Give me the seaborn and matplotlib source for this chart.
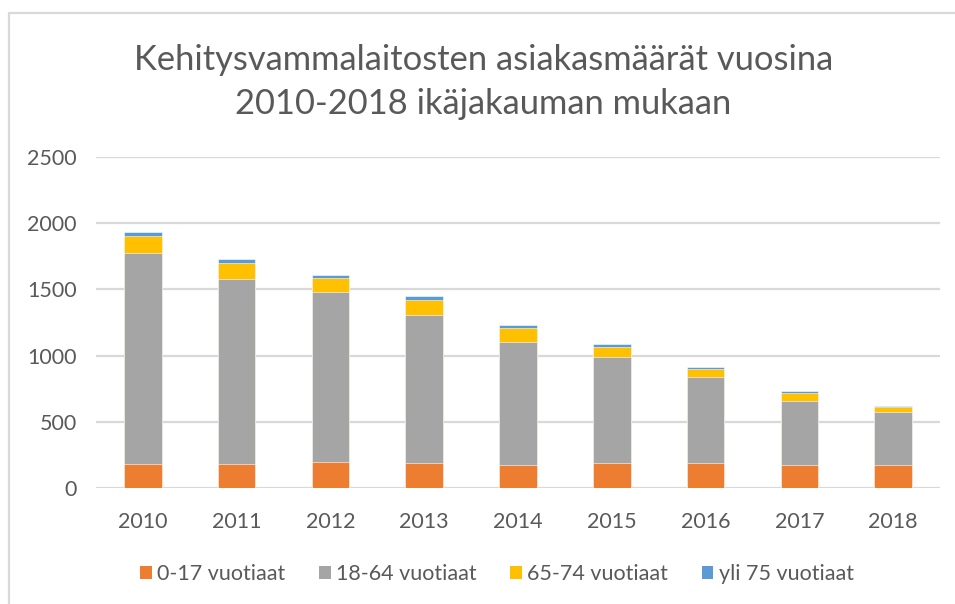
import matplotlib
matplotlib.use("Agg")
import matplotlib.pyplot as plt
from matplotlib.lines import Line2D
from matplotlib.patches import Patch
import seaborn as sns
import pandas as pd
import numpy as np

years = ["2010", "2011", "2012", "2013", "2014", "2015", "2016", "2017", "2018"]
age_0_17 = [184, 184, 195, 190, 172, 190, 188, 171, 171]
age_18_64 = [1594, 1392, 1282, 1118, 933, 800, 647, 488, 400]
age_65_74 = [126, 126, 106, 115, 105, 75, 65, 58, 38]
age_75_plus = [30, 30, 23, 30, 20, 23, 13, 12, 13]
series_names = ["0-17 vuotiaat", "18-64 vuotiaat", "65-74 vuotiaat", "yli 75 vuotiaat"]
colors = ["#ED7D31", "#A5A5A5", "#FFC000", "#5B9BD5"]
title = "Kehitysvammalaitosten asiakasmäärät vuosina\n2010-2018 ikäjakauman mukaan"

sns.set_theme(style="white")
plt.rcParams["font.family"] = ["Lato", "DejaVu Sans"]
text_color = "#595959"
grid_color = "#D9D9D9"

W, H = 955, 604
fig = plt.figure(figsize=(W / 100, H / 100), dpi=100)
fig.patch.set_facecolor("white")
ax = fig.add_axes([96 / W, 1 - 488 / H, (940 - 96) / W, (488 - 157) / H])

df = pd.DataFrame({"year": years})
layers = [age_0_17, age_18_64, age_65_74, age_75_plus]
cum = np.cumsum(np.array(layers), axis=0)
for i in range(3, -1, -1):
    df["v"] = cum[i]
    sns.barplot(data=df, x="year", y="v", color=colors[i], width=0.40,
                edgecolor="white", linewidth=0.4, saturation=1, ax=ax, zorder=3)

ax.set_ylim(0, 2500)
ax.set_yticks([0, 500, 1000, 1500, 2000, 2500])
ax.yaxis.grid(True, color=grid_color, linewidth=1.6, zorder=0)
ax.set_axisbelow(True)
for s in ax.spines.values():
    s.set_visible(False)
ax.set_xlabel("")
ax.set_ylabel("")
ax.tick_params(axis="y", length=0, pad=14, labelsize=15.5, labelcolor=text_color)
ax.tick_params(axis="x", length=0, pad=17, labelsize=15.5, labelcolor=text_color)
ax.set_xlim(-0.5, 8.5)

fig.text(0.5 + 6 / W, 1 - 82 / H, title, ha="center", va="center", fontsize=24.8,
         color=text_color, linespacing=1.45)

handles = [Patch(facecolor=c, edgecolor="none") for c in colors]
fig.legend(handles, series_names, loc="center", bbox_to_anchor=(497 / W, 1 - 574 / H),
           ncol=4, frameon=False, fontsize=15.5, labelcolor=text_color,
           handlelength=0.55, handleheight=0.55, handletextpad=0.25, columnspacing=1.55)

fig.add_artist(Line2D([9 / W, 9 / W], [0, 1 - 13 / H], color=grid_color, linewidth=1.6,
                      transform=fig.transFigure))
fig.add_artist(Line2D([9 / W, 1], [1 - 13 / H, 1 - 13 / H], color=grid_color, linewidth=1.6,
                      transform=fig.transFigure))

fig.savefig("out.png", dpi=100)
